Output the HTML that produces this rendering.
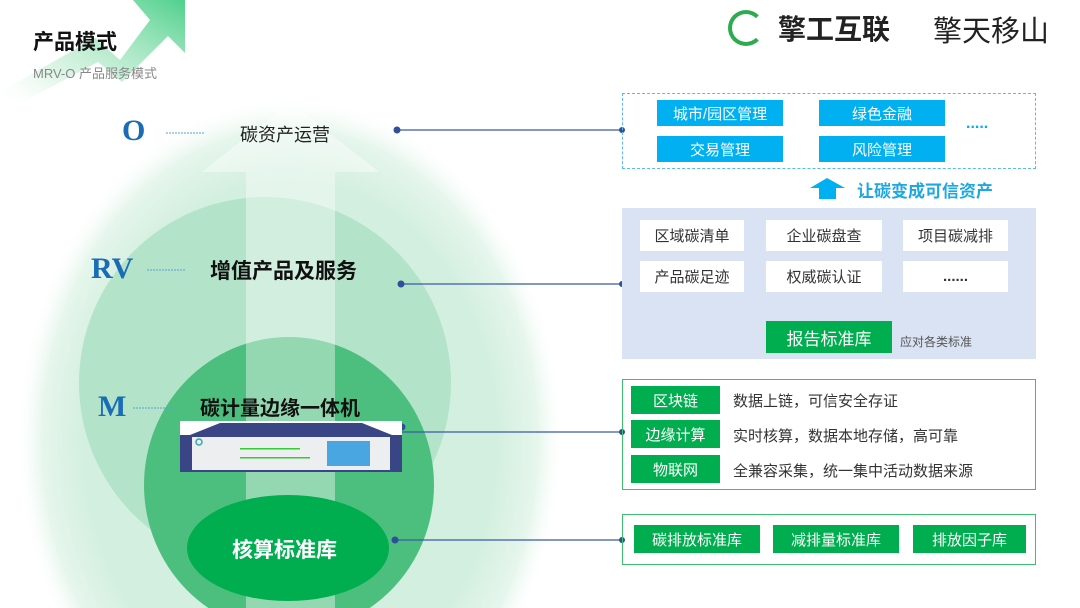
<!DOCTYPE html>
<html><head><meta charset="utf-8"><style>
*{margin:0;padding:0;box-sizing:border-box}
html,body{width:1080px;height:608px;overflow:hidden}
body{background:#fff;position:relative;font-family:"Liberation Sans","Noto Sans CJK SC",sans-serif}
.a{position:absolute}
.c{display:flex;align-items:center;justify-content:center}
.blue{background:#00b0f0;color:#fff;font-size:15px}
.wb{background:#fff;color:#333;font-size:15px}
.gb{background:#00ad4f;color:#fff;font-size:15px}
.t{color:#333;font-size:15px;white-space:nowrap}
</style></head><body>
<svg class="a" style="left:0;top:0" width="1080" height="608">
<defs>
<linearGradient id="dg" x1="1" y1="0" x2="0" y2="1"><stop offset="0" stop-color="#4fd08c"/><stop offset="0.7" stop-color="#bfeccf" stop-opacity="0.5"/><stop offset="1" stop-color="#fff" stop-opacity="0"/></linearGradient>
<radialGradient id="big" cx="0.5" cy="0.5" r="0.5"><stop offset="0.75" stop-color="#d3efdf"/><stop offset="0.9" stop-color="#e6f6ec"/><stop offset="1" stop-color="#fff" stop-opacity="0"/></radialGradient>
</defs>
<polygon points="0,92 95,38 120,60 150,20 133,0 185,0 185,53 168,36 122,82 98,62 15,106" fill="url(#dg)"/>
<ellipse cx="290" cy="440" rx="275" ry="345" fill="url(#big)"/>
<circle cx="265" cy="383" r="186" fill="#b3e3c9"/>
<ellipse cx="289" cy="485" rx="145" ry="148" fill="#4cbf7e"/>
<polygon points="246,608 246,172 202,172 290,102 379,172 335,172 335,608" fill="#fff" opacity="0.4"/>
<ellipse cx="288" cy="548" rx="101" ry="53" fill="#00ad4f"/>
<g stroke="#3b5aa6" stroke-width="1.3">
<line x1="397" y1="130" x2="622" y2="130"/><line x1="401" y1="284" x2="622" y2="284"/>
<line x1="402" y1="432" x2="622" y2="432"/><line x1="395" y1="540" x2="622" y2="540"/></g>
<g fill="#2f4f9a"><circle cx="397" cy="130" r="3.5"/><circle cx="401" cy="284" r="3.5"/><circle cx="402" cy="427" r="3.5"/><circle cx="395" cy="540" r="3.5"/>
<circle cx="622" cy="130" r="3"/><circle cx="622" cy="284" r="3"/><circle cx="622" cy="432" r="3"/><circle cx="622" cy="540" r="3"/></g>
<g stroke="#5aa0d8" stroke-width="1" stroke-dasharray="2,1"><line x1="166" y1="133" x2="205" y2="133"/><line x1="147" y1="270" x2="186" y2="270"/><line x1="133" y1="408" x2="173" y2="408"/></g>
<rect x="180" y="421" width="222" height="14" fill="#fff"/>
<polygon points="190,435 220,423 362,423 392,435" fill="#3a4585"/>
<rect x="180" y="435" width="222" height="37" fill="#3a4585"/>
<rect x="192" y="437" width="198" height="33" fill="#eceef0"/>
<rect x="327" y="441" width="43" height="25" fill="#4aa6e0"/>
<circle cx="199" cy="442" r="3" fill="none" stroke="#3aa" stroke-width="1.5"/>
<g fill="#3c3"><rect x="240" y="448" width="60" height="1.5"/><rect x="240" y="457" width="70" height="1.5"/></g>
<polygon points="810,188 827,178 845,188 836,188 836,199 819,199 819,188" fill="#00b0f0"/>
<polygon points="810,307 827,297 845,307 836,307 836,318 819,318 819,307" fill="#00ad4f"/>
</svg>
<div class="a" style="left:33px;top:26px;font-size:21px;font-weight:bold;color:#111">产品模式</div>
<div class="a" style="left:33px;top:63px;font-size:13px;color:#888">MRV-O 产品服务模式</div>
<div class="a" style="left:728px;top:10px;width:36px;height:36px;border:4px solid #2eaa4f;border-radius:50%;border-right-color:transparent"></div>
<div class="a" style="left:778px;top:8px;font-size:28px;font-weight:bold;color:#222">擎工互联</div>
<div class="a" style="left:933px;top:8px;font-size:29px;color:#222">擎天移山</div>
<div class="a" style="left:122px;top:114px;font-size:30px;font-weight:bold;color:#1a6cb5;font-family:'Liberation Serif',serif">O</div>
<div class="a" style="left:91px;top:252px;font-size:30px;font-weight:bold;color:#1a6cb5;font-family:'Liberation Serif',serif">RV</div>
<div class="a" style="left:98px;top:390px;font-size:30px;font-weight:bold;color:#1a6cb5;font-family:'Liberation Serif',serif">M</div>
<div class="a" style="left:240px;top:121px;font-size:18px;color:#222">碳资产运营</div>
<div class="a" style="left:210px;top:255px;font-size:21px;font-weight:bold;color:#111">增值产品及服务</div>
<div class="a" style="left:200px;top:392px;font-size:20px;font-weight:bold;color:#111">碳计量边缘一体机</div>
<div class="a" style="left:232px;top:534px;font-size:21px;font-weight:bold;color:#fff">核算标准库</div>

<div class="a" style="left:622px;top:93px;width:414px;height:76px;border:1.5px dashed #5bbbe8"></div>
<div class="a c blue" style="left:657px;top:100px;width:126px;height:26px">城市/园区管理</div>
<div class="a c blue" style="left:819px;top:100px;width:126px;height:26px">绿色金融</div>
<div class="a c blue" style="left:657px;top:136px;width:126px;height:26px">交易管理</div>
<div class="a c blue" style="left:819px;top:136px;width:126px;height:26px">风险管理</div>
<div class="a" style="left:966px;top:115px;color:#00b0f0;font-size:16px;font-weight:bold">.....</div>
<div class="a" style="left:857px;top:177px;color:#1ea7e1;font-size:17px;font-weight:bold">让碳变成可信资产</div>

<div class="a" style="left:622px;top:208px;width:414px;height:151px;background:#dae3f3"></div>
<div class="a c wb" style="left:640px;top:220px;width:104px;height:31px">区域碳清单</div>
<div class="a c wb" style="left:766px;top:220px;width:116px;height:31px">企业碳盘查</div>
<div class="a c wb" style="left:903px;top:220px;width:105px;height:31px">项目碳减排</div>
<div class="a c wb" style="left:640px;top:261px;width:104px;height:31px">产品碳足迹</div>
<div class="a c wb" style="left:766px;top:261px;width:116px;height:31px">权威碳认证</div>
<div class="a c wb" style="left:903px;top:261px;width:105px;height:31px;font-weight:bold">......</div>
<div class="a c gb" style="left:766px;top:321px;width:126px;height:32px;font-size:17px">报告标准库</div>
<div class="a" style="left:900px;top:333px;font-size:12px;color:#555">应对各类标准</div>

<div class="a" style="left:622px;top:379px;width:414px;height:111px;border:1.5px solid #3cbf6f"></div>
<div class="a c gb" style="left:631px;top:386px;width:89px;height:28px">区块链</div>
<div class="a c gb" style="left:631px;top:420px;width:89px;height:28px">边缘计算</div>
<div class="a c gb" style="left:631px;top:455px;width:89px;height:28px">物联网</div>
<div class="a t" style="left:733px;top:390px">数据上链，可信安全存证</div>
<div class="a t" style="left:733px;top:425px">实时核算，数据本地存储，高可靠</div>
<div class="a t" style="left:733px;top:460px">全兼容采集，统一集中活动数据来源</div>

<div class="a" style="left:622px;top:514px;width:414px;height:51px;border:1.5px solid #3cbf6f"></div>
<div class="a c gb" style="left:634px;top:525px;width:126px;height:28px">碳排放标准库</div>
<div class="a c gb" style="left:773px;top:525px;width:126px;height:28px">减排量标准库</div>
<div class="a c gb" style="left:913px;top:525px;width:113px;height:28px">排放因子库</div>
</body></html>
